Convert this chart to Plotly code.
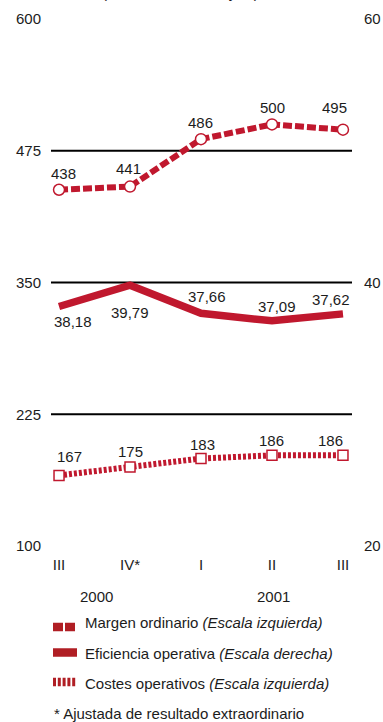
import plotly.graph_objects as go

# Quarters and values
quarters = ["III", "IV*", "I", "II", "III"]
years = ["2000", "2001"]
margen_ordinario = [438, 441, 486, 500, 495]
eficiencia_operativa = [38.18, 39.79, 37.66, 37.09, 37.62]
costes_operativos = [167, 175, 183, 186, 186]
left_ticks = [100, 225, 350, 475, 600]
right_ticks = [20, 40, 60]

RED = "#c0182e"
LEGEND_RED = "#b01e24"
TEXT = "#1c1c1c"
FONT = "Liberation Sans, Arial, sans-serif"
FS = 15

W, H = 383, 722
L, R, T, B = 51, 31, 19, 176
PW, PH = W - L - R, H - T - B


def px_x(px):
    return (px - L) / PW


def px_y(py):
    return (H - B - py) / PH


def fmt(v):
    return f"{v:.2f}".replace(".", ",")


x = list(range(len(quarters)))

fig = go.Figure()

fig.add_trace(go.Scatter(
    x=x, y=margen_ordinario, mode="lines+markers", yaxis="y",
    line=dict(color=RED, width=6, dash="9px,3px"),
    marker=dict(symbol="circle", size=11, color="white",
                line=dict(color=RED, width=1.5)),
    showlegend=False,
))
fig.add_trace(go.Scatter(
    x=x, y=eficiencia_operativa, mode="lines", yaxis="y2",
    line=dict(color=RED, width=7.5),
    showlegend=False,
))
fig.add_trace(go.Scatter(
    x=x, y=costes_operativos, mode="lines+markers", yaxis="y",
    line=dict(color=RED, width=6, dash="3px,2px"),
    marker=dict(symbol="square", size=10, color="white",
                line=dict(color=RED, width=1.5)),
    showlegend=False,
))

annotations = []
label_font = dict(size=FS, color=TEXT, family=FONT)

# value labels (offsets in pixels from each point)
margen_off = [(4, -16), (-2, -18), (-1, -17), (1, -17), (-8, -22)]
for xi, v, (dx, dy) in zip(x, margen_ordinario, margen_off):
    annotations.append(dict(x=xi, y=v, xref="x", yref="y", text=str(v),
                            showarrow=False, xshift=dx, yshift=-dy,
                            font=label_font))

efi_off = [(14, 15), (0, 27), (6, -17), (5, -14), (-12, -14)]
for xi, v, (dx, dy) in zip(x, eficiencia_operativa, efi_off):
    annotations.append(dict(x=xi, y=v, xref="x", yref="y2", text=fmt(v),
                            showarrow=False, xshift=dx, yshift=-dy,
                            font=label_font))

costes_off = [(10, -19), (0, -15), (1, -14), (0, -15), (-12, -15)]
for xi, v, (dx, dy) in zip(x, costes_operativos, costes_off):
    annotations.append(dict(x=xi, y=v, xref="x", yref="y", text=str(v),
                            showarrow=False, xshift=dx, yshift=-dy,
                            font=label_font))

# year labels under the quarter ticks
for label, cx in zip(years, [96, 273]):
    annotations.append(dict(x=px_x(cx), y=px_y(596), xref="paper", yref="paper",
                            text=label, showarrow=False, xanchor="center",
                            yanchor="middle", font=label_font))

# subtitle, mostly above the visible area
annotations.append(dict(x=px_x(180), y=px_y(3), xref="paper", yref="paper",
                        text="(Millones de euros y %)", showarrow=False,
                        xanchor="center", yanchor="bottom", font=label_font))

# legend
legend_items = [
    ("Margen ordinario <i>(Escala izquierda)</i>", "10px,2px", 627, 622),
    ("Eficiencia operativa <i>(Escala derecha)</i>", "solid", 652.5, 653),
    ("Costes operativos <i>(Escala izquierda)</i>", "3px,1.8px", 682, 683),
]
shapes = []
for text, dash, sy, ty in legend_items:
    shapes.append(dict(type="line", xref="paper", yref="paper",
                       x0=px_x(53), x1=px_x(77), y0=px_y(sy), y1=px_y(sy),
                       line=dict(color=LEGEND_RED, width=8.5, dash=dash)))
    annotations.append(dict(x=px_x(83), y=px_y(ty), xref="paper", yref="paper",
                            text=text, showarrow=False, xanchor="left",
                            yanchor="middle", font=label_font))

annotations.append(dict(x=px_x(52), y=px_y(713), xref="paper", yref="paper",
                        text="* Ajustada de resultado extraordinario",
                        showarrow=False, xanchor="left", yanchor="middle",
                        font=label_font))

# horizontal rules at the inner left-axis ticks
for t in left_ticks[1:-1]:
    shapes.append(dict(type="line", xref="paper", yref="y", x0=0, x1=1,
                       y0=t, y1=t, line=dict(color="black", width=2),
                       layer="below"))

fig.update_layout(
    width=W, height=H,
    margin=dict(l=L, r=R, t=T, b=B, autoexpand=False),
    paper_bgcolor="white", plot_bgcolor="white",
    font=dict(family=FONT, size=FS, color=TEXT),
    xaxis=dict(tickvals=x, ticktext=quarters, range=[-0.113, 4.127],
               showgrid=False, zeroline=False, showline=False,
               ticks="", ticklabelstandoff=8, automargin=False),
    yaxis=dict(range=[100, 600], tickvals=left_ticks, showgrid=False,
               zeroline=False, showline=False, ticks="",
               ticklabelstandoff=9, automargin=False),
    yaxis2=dict(range=[20, 60], tickvals=right_ticks, overlaying="y",
                side="right", showgrid=False, zeroline=False, showline=False,
                ticks="", ticklabelstandoff=11, automargin=False),
    shapes=shapes,
    annotations=annotations,
)

fig.write_html("out.html")
